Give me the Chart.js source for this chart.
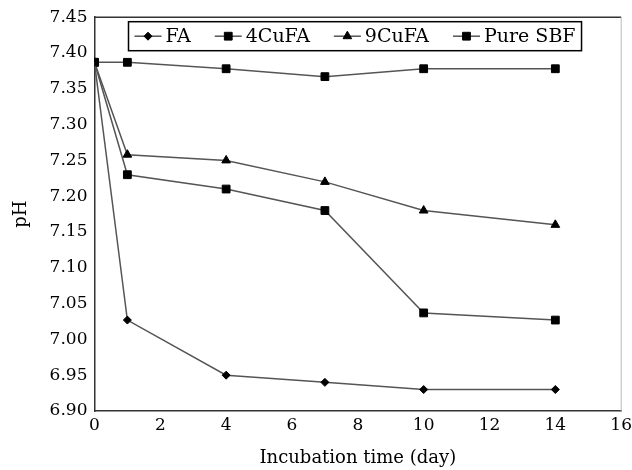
<!DOCTYPE html>
<html>
<head>
<meta charset="utf-8">
<script src="https://cdn.jsdelivr.net/npm/chart.js@4/dist/chart.umd.min.js"></script>
<style>
html, body { margin: 0; padding: 0; background: #fff; overflow: hidden; }
</style>
</head>
<body>
<canvas id="phChart" width="636" height="470"></canvas>
<script>
// incubation days and pH readings
var days = [0, 1, 4, 7, 10, 14];
var fa_ph = [7.387, 7.027, 6.950, 6.940, 6.930, 6.930];
var cu4_ph = [7.387, 7.230, 7.210, 7.180, 7.037, 7.027];
var cu9_ph = [7.387, 7.258, 7.250, 7.220, 7.180, 7.160];
var sbf_ph = [7.387, 7.387, 7.378, 7.367, 7.378, 7.378];
var series_names = ['FA', '4CuFA', '9CuFA', 'Pure SBF'];
var x_ticks = [0, 2, 4, 6, 8, 10, 12, 14, 16];
var y_ticks = [6.90, 6.95, 7.00, 7.05, 7.10, 7.15, 7.20, 7.25, 7.30, 7.35, 7.40, 7.45];

const serif = 'DejaVu Serif';

function makeSet(label, values, style, radius) {
  return {
    label: label,
    data: days.map((d, i) => ({ x: d, y: values[i] })),
    borderColor: '#555',
    borderWidth: 1.5,
    backgroundColor: '#000',
    pointBackgroundColor: '#000',
    pointBorderColor: '#000',
    pointBorderWidth: 1,
    pointStyle: style,
    pointRadius: radius,
    tension: 0
  };
}

const frameLines = {
  id: 'frameLines',
  afterDraw(chart) {
    const a = chart.chartArea, ctx = chart.ctx;
    ctx.save();
    ctx.lineWidth = 1.5;
    ctx.strokeStyle = '#333';
    ctx.beginPath();
    ctx.moveTo(a.left, a.top);
    ctx.lineTo(a.right, a.top);
    ctx.stroke();
    ctx.strokeStyle = '#bbb';
    ctx.lineWidth = 1;
    ctx.beginPath();
    ctx.moveTo(a.right, a.top);
    ctx.lineTo(a.right, a.bottom);
    ctx.stroke();
    ctx.restore();
  }
};

// legend drawn in a framed box inside the plot, like the original
const boxLegend = {
  id: 'boxLegend',
  afterDatasetsDraw(chart) {
    const a = chart.chartArea, ctx = chart.ctx;
    const segLen = 27, gap = 4, itemGap = 24, padX = 6;
    ctx.save();
    ctx.font = '19px "' + serif + '"';
    let widths = chart.data.datasets.map(ds => segLen + gap + ctx.measureText(ds.label).width);
    let total = widths.reduce((s, w) => s + w, 0) + itemGap * (widths.length - 1) + padX * 2;
    let left = Math.round((a.left + a.right) / 2 - total / 2) - 2.5;
    let top = a.top + 4.5, h = 29;
    ctx.fillStyle = '#fff';
    ctx.fillRect(left, top, total, h);
    ctx.strokeStyle = '#000';
    ctx.lineWidth = 1.5;
    ctx.strokeRect(left, top, total, h);
    let x = left + padX, cy = top + h / 2;
    chart.data.datasets.forEach((ds, i) => {
      ctx.strokeStyle = '#555';
      ctx.lineWidth = 1.5;
      ctx.beginPath();
      ctx.moveTo(x, cy);
      ctx.lineTo(x + segLen, cy);
      ctx.stroke();
      ctx.fillStyle = '#000';
      ctx.strokeStyle = '#000';
      ctx.lineWidth = 1;
      Chart.helpers.drawPoint(ctx, { pointStyle: ds.pointStyle, radius: ds.pointRadius, rotation: 0, borderWidth: 1 }, x + segLen / 2, cy);
      ctx.fillStyle = '#000';
      ctx.textBaseline = 'middle';
      ctx.fillText(ds.label, x + segLen + gap, cy + 1);
      x += widths[i] + itemGap;
    });
    ctx.restore();
  }
};

const phChart = new Chart(document.getElementById('phChart'), {
  type: 'line',
  data: {
    datasets: [
      makeSet(series_names[0], fa_ph, 'rectRot', 4),
      makeSet(series_names[1], cu4_ph, 'rect', 5.5),
      makeSet(series_names[2], cu9_ph, 'triangle', 5),
      makeSet(series_names[3], sbf_ph, 'rect', 5.5)
    ]
  },
  options: {
    responsive: false,
    animation: false,
    layout: { padding: { top: 15, left: 11, right: 0, bottom: 1 } },
    plugins: {
      legend: { display: false },
      tooltip: { enabled: false }
    },
    scales: {
      x: {
        type: 'linear',
        min: 0,
        max: 16,
        afterBuildTicks: (axis) => { axis.ticks = x_ticks.map(v => ({ value: v })); },
        ticks: { color: '#000', padding: 4, font: { family: serif, size: 17 } },
        grid: { display: false, tickLength: 0 },
        border: { display: true, color: '#333', width: 1.5 },
        title: { display: true, text: 'Incubation time (day)', color: '#000', font: { family: serif, size: 18 }, padding: { top: 8, bottom: 0 } }
      },
      y: {
        min: 6.9,
        max: 7.45,
        afterBuildTicks: (axis) => { axis.ticks = y_ticks.map(v => ({ value: v })); },
        ticks: { color: '#000', padding: 7, font: { family: serif, size: 17 }, callback: v => v.toFixed(2) },
        grid: { display: false, tickLength: 0 },
        border: { display: true, color: '#333', width: 1.5 },
        title: { display: true, text: 'pH', color: '#000', font: { family: serif, size: 18 }, padding: { top: 0, bottom: 10 } }
      }
    }
  },
  plugins: [frameLines, boxLegend]
});
</script>
</body>
</html>
